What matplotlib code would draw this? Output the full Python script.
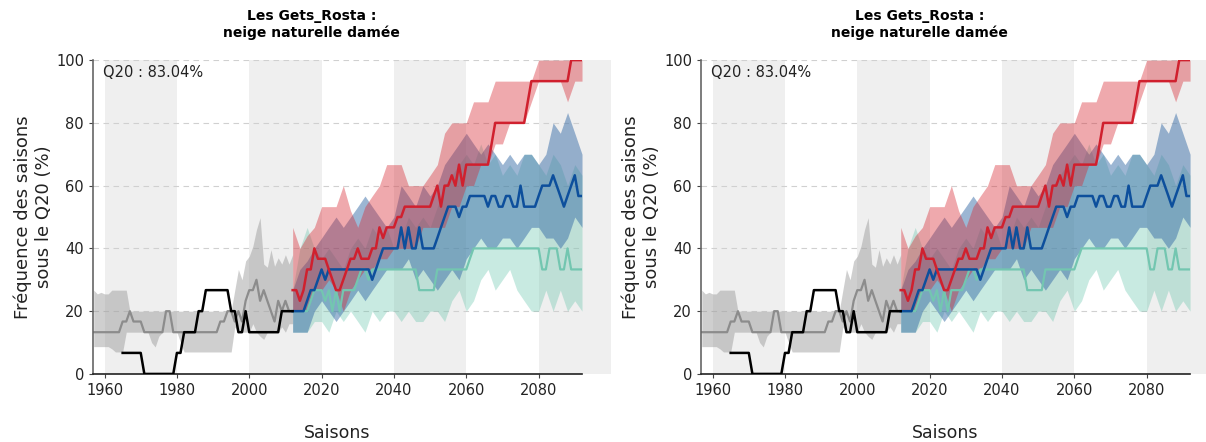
import numpy as np
import matplotlib.pyplot as plt

# historical reanalysis (grey): median + envelope, 1957-2012
hist_years = np.arange(1957, 2013)
hist_med = [13.3, 13.3, 13.3, 13.3, 13.3, 13.3, 13.3, 13.3, 16.7, 16.7,   # 1957-66
            20.0, 16.7, 16.7, 16.7, 13.3, 13.3, 13.3, 13.3, 13.3, 13.3,   # 1967-76
            20.0, 20.0, 13.3, 13.3, 13.3, 13.3, 13.3, 13.3, 13.3, 13.3,   # 1977-86
            13.3, 13.3, 13.3, 13.3, 13.3, 16.7, 16.7, 20.0, 20.0, 16.7,   # 1987-96
            20.0, 16.7, 23.3, 26.7, 26.7, 30.0, 23.3, 26.7, 23.3, 20.0,   # 1997-06
            16.7, 23.3, 20.0, 23.3, 20.0, 20.0]                           # 2007-12
hist_lo = [8.7, 8.7, 8.7, 8.7, 8.7, 8.0, 7.0, 7.0, 7.0, 13.3,
           13.3, 13.3, 13.3, 13.3, 13.3, 13.3, 10.0, 8.6, 12.0, 13.3,
           13.3, 13.3, 13.3, 13.3, 10.0, 7.0, 7.0, 7.0, 7.0, 7.0,
           7.0, 7.0, 7.0, 7.0, 7.0, 7.0, 7.0, 7.0, 7.0, 15.0,
           13.3, 13.3, 13.3, 13.3, 16.0, 13.3, 12.0, 11.0, 13.3, 13.3,
           14.0, 13.3, 15.0, 13.3, 16.0, 16.0]
hist_hi = [26.7, 25.5, 26.0, 25.5, 25.5, 26.7, 26.7, 26.7, 26.7, 26.7,
           20.0, 20.0, 20.0, 20.0, 20.0, 20.0, 20.0, 20.0, 20.0, 20.0,
           20.0, 20.0, 20.0, 20.0, 20.0, 20.0, 20.0, 20.0, 20.0, 20.0,
           20.0, 20.0, 20.0, 20.0, 20.0, 20.0, 20.0, 20.0, 20.0, 26.7,
           33.3, 30.0, 36.0, 37.5, 40.7, 46.0, 49.8, 35.0, 34.0, 39.6,
           34.3, 37.0, 35.0, 38.0, 35.0, 38.0]

# observations (black), 1965-2012
obs_years = np.arange(1965, 2013)
obs = [6.7, 6.7, 6.7, 6.7, 6.7, 6.7, 0.0, 0.0, 0.0, 0.0,       # 1965-74
       0.0, 0.0, 0.0, 0.0, 0.0, 6.7, 6.7, 13.3, 13.3, 13.3,    # 1975-84
       13.3, 20.0, 20.0, 26.7, 26.7, 26.7, 26.7, 26.7, 26.7, 26.7,  # 1985-94
       20.0, 20.0, 13.3, 13.3, 20.0, 13.3, 13.3, 13.3, 13.3, 13.3,  # 1995-04
       13.3, 13.3, 13.3, 13.3, 20.0, 20.0, 20.0, 20.0]         # 2005-12

# projections, 2012-2092 (medians yearly, envelopes every 2 years)
proj_years = np.arange(2012, 2093)
band_years = np.arange(2012, 2093, 2)

rcp85_med = [26.7, 26.7, 23.3, 26.7, 33.3, 33.3, 40.0, 36.7, 36.7, 36.7,   # 2012-21
             33.3, 30.0, 26.7, 26.7, 30.0, 33.3, 36.7, 36.7, 40.0, 36.7,   # 2022-31
             36.7, 36.7, 40.0, 40.0, 46.7, 43.3, 46.7, 46.7, 46.7, 50.0,   # 2032-41
             50.0, 53.3, 53.3, 53.3, 53.3, 53.3, 53.3, 53.3, 53.3, 56.7,   # 2042-51
             60.0, 53.3, 60.0, 60.0, 63.3, 60.0, 66.7, 60.0, 66.7, 66.7,   # 2052-61
             66.7, 66.7, 66.7, 66.7, 66.7, 73.3, 80.0, 80.0, 80.0, 80.0,   # 2062-71
             80.0, 80.0, 80.0, 80.0, 80.0, 86.7, 93.3, 93.3, 93.3, 93.3,   # 2072-81
             93.3, 93.3, 93.3, 93.3, 93.3, 93.3, 93.3, 100.0, 100.0, 100.0,  # 2082-91
             100.0]
rcp85_lo = [20.0, 20.0, 20.0, 26.7, 26.7, 30.0, 26.7, 20.0, 26.7, 30.0,
            33.3, 33.3, 36.7, 36.7, 40.0, 40.0, 40.0, 40.0, 46.7, 46.7,
            46.7, 46.7, 53.3, 53.3, 60.0, 60.0, 66.7, 66.7, 73.3, 73.3,
            80.0, 80.0, 80.0, 86.7, 93.3, 93.3, 93.3, 93.3, 86.7, 93.3,
            93.3]
rcp85_hi = [46.7, 40.0, 44.0, 46.7, 53.3, 53.3, 53.3, 60.0, 52.0, 46.7,
            53.3, 56.7, 60.0, 66.7, 66.7, 66.7, 60.0, 60.0, 60.0, 63.3,
            66.7, 76.7, 80.0, 80.0, 80.0, 86.7, 86.7, 86.7, 93.3, 93.3,
            93.3, 93.3, 93.3, 93.3, 100.0, 100.0, 100.0, 100.0, 100.0, 100.0,
            100.0]

rcp45_med = [20.0, 20.0, 20.0, 20.0, 23.3, 26.7, 26.7, 30.0, 33.3, 30.0,
             33.3, 33.3, 33.3, 33.3, 33.3, 33.3, 33.3, 33.3, 33.3, 33.3,
             33.3, 33.3, 30.0, 33.3, 36.7, 40.0, 40.0, 40.0, 40.0, 40.0,
             46.7, 40.0, 46.7, 40.0, 40.0, 46.7, 40.0, 40.0, 40.0, 40.0,
             43.3, 46.7, 50.0, 53.3, 53.3, 53.3, 50.0, 53.3, 53.3, 56.7,
             56.7, 56.7, 56.7, 56.7, 53.3, 56.7, 56.7, 53.3, 53.3, 56.7,
             56.7, 53.3, 53.3, 60.0, 53.3, 53.3, 53.3, 53.3, 56.7, 60.0,
             60.0, 60.0, 63.3, 60.0, 56.7, 53.3, 56.7, 60.0, 63.3, 56.7,
             56.7]
rcp45_lo = [13.3, 13.3, 13.3, 20.0, 23.3, 20.0, 16.7, 20.0, 23.3, 26.7,
            23.3, 26.7, 30.0, 33.3, 33.3, 33.3, 36.7, 30.0, 33.3, 30.0,
            26.7, 30.0, 33.3, 30.0, 36.7, 40.0, 43.3, 40.0, 40.0, 43.3,
            43.3, 40.0, 43.3, 46.7, 46.7, 43.3, 43.3, 40.0, 43.3, 50.0,
            46.7]
rcp45_hi = [26.7, 33.3, 36.0, 40.0, 43.3, 46.7, 50.0, 46.7, 50.0, 53.3,
            56.7, 53.3, 50.0, 46.7, 50.0, 60.0, 56.7, 53.3, 60.0, 56.7,
            60.0, 66.7, 70.0, 73.3, 76.7, 73.3, 70.0, 73.3, 70.0, 66.7,
            70.0, 66.7, 70.0, 70.0, 66.7, 70.0, 80.0, 76.7, 83.3, 76.7,
            70.0]

rcp26_med = [20.0, 20.0, 20.0, 20.0, 20.0, 23.3, 26.7, 26.7, 26.7, 23.3,
             26.7, 20.0, 26.7, 20.0, 26.7, 26.7, 26.7, 26.7, 30.0, 33.3,
             33.3, 30.0, 33.3, 33.3, 33.3, 33.3, 33.3, 33.3, 33.3, 33.3,
             33.3, 33.3, 33.3, 33.3, 33.3, 26.7, 26.7, 26.7, 26.7, 26.7,
             33.3, 33.3, 33.3, 33.3, 33.3, 33.3, 33.3, 33.3, 33.3, 36.7,
             40.0, 40.0, 40.0, 40.0, 40.0, 40.0, 40.0, 40.0, 40.0, 40.0,
             40.0, 40.0, 40.0, 40.0, 40.0, 40.0, 40.0, 40.0, 40.0, 33.3,
             33.3, 40.0, 40.0, 40.0, 33.3, 33.3, 40.0, 33.3, 33.3, 33.3,
             33.3]
rcp26_lo = [13.3, 13.3, 13.3, 16.7, 16.7, 13.3, 20.0, 16.7, 20.0, 16.7,
            13.3, 20.0, 16.7, 20.0, 20.0, 16.7, 20.0, 16.7, 16.7, 20.0,
            20.0, 16.7, 23.3, 26.7, 20.0, 23.3, 30.0, 33.3, 26.7, 30.0,
            33.3, 26.7, 23.3, 20.0, 20.0, 26.7, 20.0, 26.7, 20.0, 23.3,
            20.0]
rcp26_hi = [26.7, 40.0, 46.7, 40.0, 36.7, 40.0, 36.7, 33.3, 40.0, 43.3,
            40.0, 46.7, 43.3, 46.7, 40.0, 43.3, 50.0, 46.7, 50.0, 46.7,
            53.3, 60.0, 63.3, 66.7, 70.0, 66.7, 73.3, 66.7, 70.0, 63.3,
            66.7, 63.3, 70.0, 70.0, 66.7, 63.3, 70.0, 66.7, 60.0, 66.7,
            63.3]

q20_text = "Q20 : 83.04%"
title = "Les Gets_Rosta :\nneige naturelle damée"


def draw_panel(ax):
    # alternating grey background every 20 years
    for start in (1960, 2000, 2040):
        ax.axvspan(start, start + 20, color="#efefef", lw=0, zorder=0)
    ax.axvspan(2080, 2100, color="#efefef", lw=0, zorder=0, clip_on=False)

    for y in (20, 40, 60, 80, 100):
        ax.axhline(y, color="#d0d0d0", lw=0.8, ls=(0, (5, 4)), zorder=0.5)

    ax.fill_between(hist_years, hist_lo, hist_hi, color="#969696", alpha=0.45, lw=0, zorder=1)
    ax.fill_between(band_years, rcp26_lo, rcp26_hi, color="#64c3aa", alpha=0.35, lw=0, zorder=1)
    ax.fill_between(band_years, rcp45_lo, rcp45_hi, color="#3a6ea8", alpha=0.5, lw=0, zorder=1)
    ax.fill_between(band_years, rcp85_lo, rcp85_hi, color="#d72832", alpha=0.4, lw=0, zorder=1)

    ax.plot(hist_years, hist_med, color="#8c8c8c", lw=1.6, zorder=2)
    ax.plot(obs_years, obs, color="black", lw=1.8, zorder=3)
    ax.plot(proj_years, rcp26_med, color="#73c6b0", lw=1.6, zorder=2)
    ax.plot(proj_years, rcp45_med, color="#0d4f9c", lw=1.8, zorder=2)
    ax.plot(proj_years, rcp85_med, color="#d0202e", lw=1.8, zorder=2)

    ax.set_xlim(1956.8, 2092)
    ax.set_ylim(0, 100)
    ax.set_xticks([1960, 1980, 2000, 2020, 2040, 2060, 2080])
    ax.set_yticks([0, 20, 40, 60, 80, 100])
    ax.tick_params(labelsize=10.5, length=3, color="#444444", labelcolor="#222222")
    for side in ("top", "right"):
        ax.spines[side].set_visible(False)
    ax.spines["left"].set_color("#666666")
    ax.spines["bottom"].set_color("#222222")
    ax.spines["left"].set_linewidth(1.2)
    ax.spines["bottom"].set_linewidth(1.2)

    ax.text(0.02, 0.985, q20_text, transform=ax.transAxes, fontsize=10.5,
            ha="left", va="top", color="#222222")
    ax.set_title(title, x=0.447, pad=17, fontsize=10, fontweight="bold")
    ax.set_xlabel("Saisons", fontsize=12.5, labelpad=19, color="#222222")
    ax.set_ylabel("Fréquence des saisons\nsous le Q20 (%)", fontsize=13,
                  labelpad=2, color="#222222")


fig = plt.figure(figsize=(12.06, 4.42), dpi=100)
ax1 = fig.add_axes([0.0771, 0.154, 0.4055, 0.710])
ax2 = fig.add_axes([0.5813, 0.154, 0.4055, 0.710])
draw_panel(ax1)
draw_panel(ax2)

fig.savefig("out.png", dpi=100)
